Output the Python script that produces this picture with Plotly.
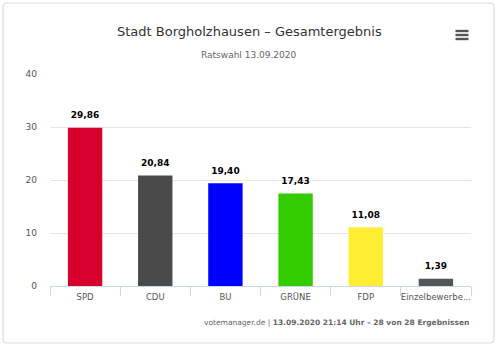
import plotly.graph_objects as go

categories = ["SPD", "CDU", "BU", "GRÜNE", "FDP", "Einzelbewerber"]
tick_labels = ["SPD", "CDU", "BU", "GRÜNE", "FDP", "Einzelbewerbe..."]
values = [29.86, 20.84, 19.40, 17.43, 11.08, 1.39]
colors = ["#d7002c", "#4a4a4a", "#0000ff", "#33cc00", "#ffed33", "#555555"]

W, H = 500, 354
L, R, T, B = 50, 29, 74, 68
pw, ph = W - L - R, H - T - B

def px(x):
    return (x - L) / pw

def py(y):
    return (H - B - y) / ph

labels = [f"{v:.2f}".replace(".", ",") for v in values]

fig = go.Figure()
fig.add_trace(go.Bar(
    x=categories, y=values, marker=dict(color=colors, line=dict(width=0)),
    hoverinfo="skip",
))
fig.add_trace(go.Scatter(
    x=categories, y=values, mode="markers+text", text=labels,
    textposition="top center", cliponaxis=False,
    marker=dict(size=10, opacity=0),
    textfont=dict(family="DejaVu Sans", size=9, color="#000000", weight="bold"),
    hoverinfo="skip",
))

# rounded card border
x0, x1, y0, y1, r = 3, 494, 3, 343, 4
path = (f"M {px(x0+r)},{py(y0)} L {px(x1-r)},{py(y0)} Q {px(x1)},{py(y0)} {px(x1)},{py(y0+r)} "
        f"L {px(x1)},{py(y1-r)} Q {px(x1)},{py(y1)} {px(x1-r)},{py(y1)} "
        f"L {px(x0+r)},{py(y1)} Q {px(x0)},{py(y1)} {px(x0)},{py(y1-r)} "
        f"L {px(x0)},{py(y0+r)} Q {px(x0)},{py(y0)} {px(x0+r)},{py(y0)} Z")
shapes = [dict(type="path", xref="paper", yref="paper", path=path,
               line=dict(color="#dcdcdc", width=1.2), layer="below")]
for yy in (31, 35, 39):
    shapes.append(dict(type="line", xref="paper", yref="paper",
                       x0=px(455.5), x1=px(468.5), y0=py(yy), y1=py(yy),
                       line=dict(color="#555555", width=2.4)))

annotations = [
    dict(text="Stadt Borgholzhausen – Gesamtergebnis", xref="paper", yref="paper",
         x=px(249), y=py(32), xanchor="center", yanchor="middle", showarrow=False,
         font=dict(family="DejaVu Sans", size=13, color="#333333")),
    dict(text="Ratswahl 13.09.2020", xref="paper", yref="paper",
         x=px(249), y=py(55), xanchor="center", yanchor="middle", showarrow=False,
         font=dict(family="DejaVu Sans", size=9, color="#666666")),
    dict(text="votemanager.de | <b>13.09.2020 21:14 Uhr – 28 von 28 Ergebnissen</b>",
         xref="paper", yref="paper", x=px(471), y=py(322), xanchor="right", yanchor="middle",
         showarrow=False, font=dict(family="DejaVu Sans", size=7.5, color="#666666")),
]

fig.update_layout(
    width=W, height=H, margin=dict(l=L, r=R, t=T, b=B),
    paper_bgcolor="white", plot_bgcolor="white",
    bargap=0.51, showlegend=False,
    shapes=shapes, annotations=annotations,
    xaxis=dict(type="category", tickvals=categories, ticktext=tick_labels,
               tickangle=0,
               showline=True, linecolor="#ccd6eb", linewidth=1,
               ticks="outside", tickson="boundaries", ticklen=9, tickcolor="#ccd6eb",
               ticklabelstandoff=3,
               tickfont=dict(family="DejaVu Sans", size=8.5, color="#555555"),
               showgrid=False, fixedrange=True),
    yaxis=dict(range=[0, 40], dtick=10, showgrid=True, gridcolor="#e6e6e6",
               zeroline=False, showline=False, ticks="", ticklabelstandoff=12,
               tickfont=dict(family="DejaVu Sans", size=9, color="#555555"),
               fixedrange=True),
)

fig.write_html("out.html")
